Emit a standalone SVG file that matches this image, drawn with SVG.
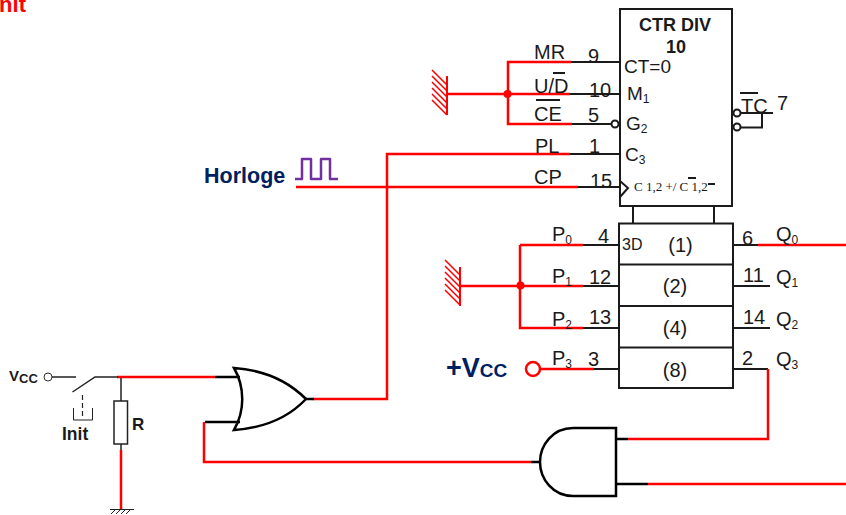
<svg xmlns="http://www.w3.org/2000/svg" width="846" height="515" viewBox="0 0 846 515">
<style>
text{font-family:"Liberation Sans",Arial,sans-serif;fill:#1a1a1a}
.l{font-size:20px}
.s{font-size:12px}
.m{font-size:19px}
.b{font-weight:bold}
.n{fill:#002060;font-weight:bold}
.k{fill:none;stroke:#1a1a1a;stroke-width:2}
.kk{fill:none;stroke:#000;stroke-width:2.5}
.r{fill:none;stroke:#f00;stroke-width:2.5}
.h{fill:none;stroke:#f00;stroke-width:1.5}
.box{fill:#fff;stroke:#1a1a1a;stroke-width:2}
</style>
<text x="-7" y="12" font-size="22" class="b" style="fill:#f00">Init</text>
<g id="connectors">
<path class="k" d="M570 62H620M570 94H620M572 124H611M570 154H620M578 187H620M583 245H619M583 286H619M583 328H619M594 369H619M733 245H758M733 286H770M733 328H770M733 369H768M633 206V223M714 206V223"/>
<path class="r" d="M571 62H508V124H572M447 94H570M296 187H578M570 154H387V399H313M520 245H583M520 245V328H583M460 286H583M540 369H594M758 245H846M768 369V439H628M648 484H846M204 422V462H531M117 377H215M121 450V509"/>
<circle cx="507.500" cy="94" r="4" fill="#f00"/>
<circle cx="520.500" cy="285.500" r="4" fill="#f00"/>
</g>
<g id="gnd-top"><path class="r" d="M447 76V115" style="stroke-width:2"/><path class="h" d="M432 70L447 85M432 76L447 91M432 82L447 97M432 88L447 103M432 94L447 109M432 100L447 115"/></g>
<g id="gnd-mid"><path class="r" d="M460 267V306" style="stroke-width:2"/><path class="h" d="M445 260L460 275M445 266L460 281M445 272L460 287M445 278L460 293M445 284L460 299M445 290L460 305"/></g>
<g id="ctr">
<rect class="box" x="620" y="9" width="112" height="197"/>
<text x="675" y="31" text-anchor="middle" font-size="18" class="b">CTR DIV</text>
<text x="676" y="53" text-anchor="middle" font-size="18" class="b">10</text>
<text x="624" y="73" class="m">CT=0</text>
<text x="627" y="100" class="m">M<tspan class="s" dy="3">1</tspan></text>
<text x="626" y="130" class="m">G<tspan class="s" dy="3">2</tspan></text>
<text x="625" y="161" class="m">C<tspan class="s" dy="3">3</tspan></text>
<path class="k" d="M620 181L628 188L620 197"/>
<text x="634" y="191" font-size="13" style="font-family:'Liberation Serif',serif">C 1,2 +/ C 1,2</text>
<path class="k" d="M688 178H696M708 184H715"/>
<circle cx="615" cy="124" r="3.500" fill="#fff" stroke="#1a1a1a" stroke-width="2"/>
<circle cx="737" cy="113" r="3.500" fill="#fff" stroke="#1a1a1a" stroke-width="2"/>
<circle cx="737" cy="127" r="3.500" fill="#fff" stroke="#1a1a1a" stroke-width="2"/>
<path class="k" d="M741 113H773M741 127.500H762V113M740 93H758"/>
<text x="741" y="113" class="l">TC</text>
<text x="777" y="110" class="l">7</text>
<path class="k" d="M553 73H565M536 100H560"/>
<text x="534" y="59" class="l">MR</text><text x="588" y="63" class="l">9</text>
<text x="534" y="93" class="l">U/D</text><text x="589" y="97" class="l">10</text>
<text x="534" y="121" class="l">CE</text><text x="588" y="122" class="l">5</text>
<text x="535" y="153" class="l">PL</text><text x="589" y="153" class="l">1</text>
<text x="534" y="184" class="l">CP</text><text x="590" y="188" class="l">15</text>
</g>
<g id="reg">
<rect class="box" x="619" y="223.500" width="114" height="164.500"/>
<path class="k" d="M619 264.500H733M619 306H733M619 347.500H733"/>
<text x="622" y="250" font-size="16">3D</text>
<text x="680.500" y="252" text-anchor="middle" class="l">(1)</text>
<text x="675" y="293" text-anchor="middle" class="l">(2)</text>
<text x="675" y="335" text-anchor="middle" class="l">(4)</text>
<text x="675" y="377" text-anchor="middle" class="l">(8)</text>
<text x="552" y="241" class="l">P<tspan class="s" dy="3">0</tspan></text><text x="598" y="243" class="l">4</text>
<text x="552" y="283" class="l">P<tspan class="s" dy="3">1</tspan></text><text x="589" y="284" class="l">12</text>
<text x="552" y="326" class="l">P<tspan class="s" dy="3">2</tspan></text><text x="589" y="324" class="l">13</text>
<text x="552" y="365" class="l">P<tspan class="s" dy="3">3</tspan></text><text x="588" y="366" class="l">3</text>
<text x="742" y="245" class="l">6</text><text x="776" y="241" class="l">Q<tspan class="s" dy="3">0</tspan></text>
<text x="743" y="282" class="l">11</text><text x="776" y="284" class="l">Q<tspan class="s" dy="3">1</tspan></text>
<text x="743" y="324" class="l">14</text><text x="776" y="326" class="l">Q<tspan class="s" dy="3">2</tspan></text>
<text x="742" y="365" class="l">2</text><text x="776" y="366" class="l">Q<tspan class="s" dy="3">3</tspan></text>
</g>
<g id="vcc-plus">
<text x="446" y="377" font-size="27" class="n">+V<tspan font-size="19">CC</tspan></text>
<circle cx="533" cy="369" r="7" fill="#fff" stroke="#f00" stroke-width="2.500"/>
</g>
<g id="horloge">
<text x="204" y="183" font-size="21.500" class="n">Horloge</text>
<path d="M295 179H302V159H311V179H321V159H330V179H338" fill="none" stroke="#7030a0" stroke-width="2.500" stroke-linejoin="round"/>
</g>
<g id="switch">
<text x="9" y="381" font-size="15" class="b">V<tspan font-size="13" dy="2">CC</tspan></text>
<circle cx="48" cy="377" r="4" fill="#fff" stroke="#333" stroke-width="1"/>
<path d="M52 377H76M72.500 392L95 377H118M121 378V401M121 444V450" fill="none" stroke="#222" stroke-width="1.500"/>
<path d="M82.500 395V418" fill="none" stroke="#222" stroke-width="1.200" stroke-dasharray="5 3"/>
<path d="M73.500 408V420H92.500V408" fill="none" stroke="#222" stroke-width="1"/>
<text x="62" y="440" font-size="17.500" class="b">Init</text>
</g>
<g id="r">
<rect x="114" y="401" width="13.500" height="43" fill="#fff" stroke="#222" stroke-width="1.500"/>
<text x="132" y="430" font-size="17" class="b">R</text>
</g>
<g id="gnd-bottom"><path d="M110 509.500H134M111 514L115 510M116 514L120 510M121 514L125 510M126 514L130 510" fill="none" stroke="#222"/></g>
<g id="or">
<path stroke="#000" stroke-width="2.500" fill="none" d="M215 377H240M205 422H240M306 399H314"/>
<path class="kk" d="M234 368C263 370 288 381 306 399C288 418 263 428 234 430C245 411 245 387 234 368Z"/>
</g>
<g id="and">
<path stroke="#000" stroke-width="2.500" fill="none" d="M531 462H540M616 439H628M616 484H648"/>
<path class="kk" d="M616 428H573C553 428 540 445 540 462C540 479 553 496 573 496H616Z"/>
</g>
</svg>
